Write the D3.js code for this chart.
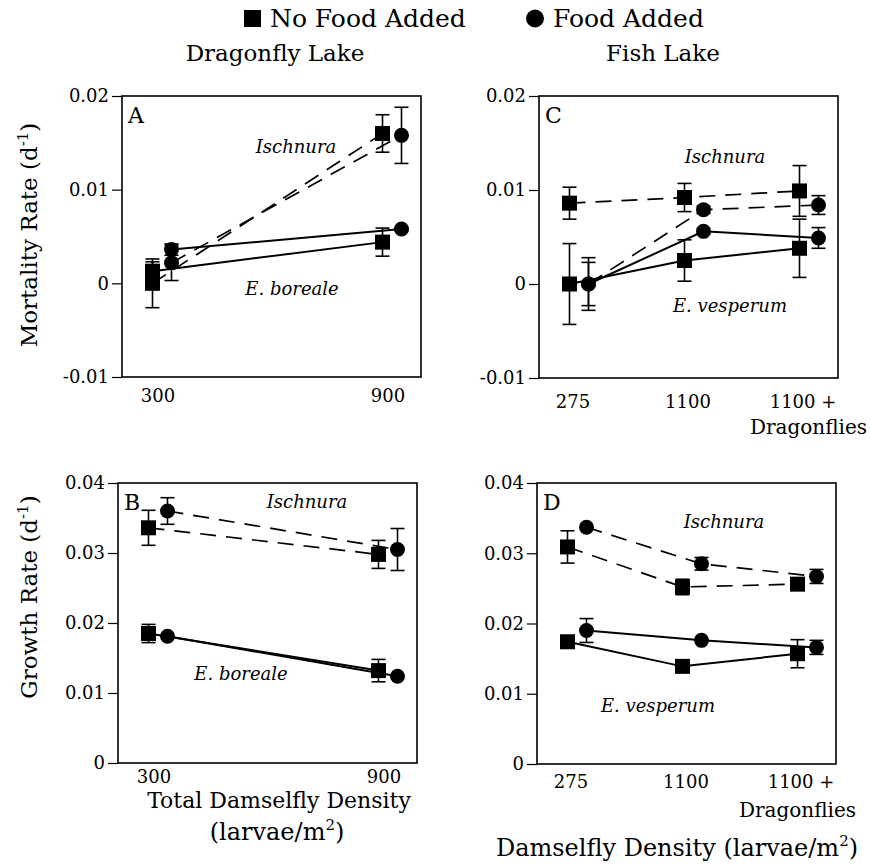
<!DOCTYPE html>
<html><head><meta charset="utf-8">
<script src="https://cdn.jsdelivr.net/npm/d3@7"></script>
<style>
body{margin:0;background:#fff}
text{font-family:"DejaVu Serif",serif;fill:#000}
</style>
</head><body>
<svg id="chart" width="870" height="868"></svg>
<script>
// ---------- DATA ----------
const catsDragonfly = ["300", "900"];
const catsFish = ["275", "1100", "1100 +"];
const mortTicks = [-0.01, 0, 0.01, 0.02];
const mortTickLabels = ["-0.01", "0", "0.01", "0.02"];
const growthTicks = [0, 0.01, 0.02, 0.03, 0.04];
const growthTickLabels = ["0", "0.01", "0.02", "0.03", "0.04"];

// Panel A: Dragonfly Lake, mortality
const aIschNoFood = [0.0000, 0.0160], aIschNoFoodErr = [0.0026, 0.0020];
const aIschFood   = [0.0022, 0.0158], aIschFoodErr   = [0.0019, 0.0030];
const aBorNoFood  = [0.0013, 0.0044], aBorNoFoodErr  = [0.0010, 0.0015];
const aBorFood    = [0.0036, 0.0058], aBorFoodErr    = [0.0006, 0.0002];
// Panel B: Dragonfly Lake, growth
const bIschNoFood = [0.0336, 0.0298], bIschNoFoodErr = [0.0025, 0.0020];
const bIschFood   = [0.0360, 0.0305], bIschFoodErr   = [0.0019, 0.0030];
const bBorNoFood  = [0.0185, 0.0132], bBorNoFoodErr  = [0.0013, 0.0016];
const bBorFood    = [0.0181, 0.0124], bBorFoodErr    = [0.0000, 0.0000];
// Panel C: Fish Lake, mortality
const cIschNoFood = [0.0086, 0.0092, 0.0099], cIschNoFoodErr = [0.0017, 0.0015, 0.0027];
const cIschFood   = [0.0000, 0.0079, 0.0084], cIschFoodErr   = [0.0028, 0.0004, 0.0010];
const cVesNoFood  = [0.0000, 0.0025, 0.0038], cVesNoFoodErr  = [0.0043, 0.0022, 0.0031];
const cVesFood    = [0.0000, 0.0056, 0.0049], cVesFoodErr    = [0.0023, 0.0003, 0.0011];
// Panel D: Fish Lake, growth
const dIschNoFood = [0.0309, 0.0252, 0.0256], dIschNoFoodErr = [0.0023, 0.0011, 0.0006];
const dIschFood   = [0.0337, 0.0285, 0.0267], dIschFoodErr   = [0.0000, 0.0009, 0.0010];
const dVesNoFood  = [0.0174, 0.0139, 0.0157], dVesNoFoodErr  = [0.0000, 0.0000, 0.0020];
const dVesFood    = [0.0190, 0.0176, 0.0166], dVesFoodErr    = [0.0017, 0.0000, 0.0010];

// ---------- LAYOUT ----------
const svg = d3.select("#chart");
svg.append("rect").attr("width", 870).attr("height", 868).attr("fill", "#fff");

const PW = 299;
const panels = [
  {letter: "A", x: 122, y: 96, h: 281, cats: catsDragonfly, dom: [-0.01, 0.02], ticks: mortTicks, tl: mortTickLabels,
   series: [[aIschNoFood, aIschNoFoodErr, "sq", true], [aIschFood, aIschFoodErr, "ci", true],
            [aBorNoFood, aBorNoFoodErr, "sq", false], [aBorFood, aBorFoodErr, "ci", false]],
   sp: [["Ischnura", 174, 0.0139], ["E. boreale", 170, -0.0012]], xlab: 25, xlabOff: -4},
  {letter: "C", x: 539, y: 96, h: 282, cats: catsFish, dom: [-0.01, 0.02], ticks: mortTicks, tl: mortTickLabels,
   series: [[cIschNoFood, cIschNoFoodErr, "sq", true], [cIschFood, cIschFoodErr, "ci", true],
            [cVesNoFood, cVesNoFoodErr, "sq", false], [cVesFood, cVesFoodErr, "ci", false]],
   sp: [["Ischnura", 186, 0.0129], ["E. vesperum", 191, -0.0030]], xlab: 30, xlabOff: -6},
  {letter: "B", x: 118, y: 483, h: 280, cats: catsDragonfly, dom: [0, 0.04], ticks: growthTicks, tl: growthTickLabels,
   series: [[bIschNoFood, bIschNoFoodErr, "sq", true], [bIschFood, bIschFoodErr, "ci", true],
            [bBorNoFood, bBorNoFoodErr, "sq", false], [bBorFood, bBorFoodErr, "ci", false]],
   sp: [["Ischnura", 189, 0.0364], ["E. boreale", 123, 0.0119]], xlab: 20, xlabOff: -4},
  {letter: "D", x: 537, y: 483, h: 281, cats: catsFish, dom: [0, 0.04], ticks: growthTicks, tl: growthTickLabels,
   series: [[dIschNoFood, dIschNoFoodErr, "sq", true], [dIschFood, dIschFoodErr, "ci", true],
            [dVesNoFood, dVesNoFoodErr, "sq", false], [dVesFood, dVesFoodErr, "ci", false]],
   sp: [["Ischnura", 187, 0.0336], ["E. vesperum", 121, 0.0074]], xlab: 24, xlabOff: -6}
];

const OFF = 9.5, SQ = 15, R = 7.5, CAP = 7;

panels.forEach(p => {
  const g = svg.append("g").attr("transform", `translate(${p.x},${p.y})`);
  const x = d3.scalePoint().domain(p.cats).range([40, 270]);
  const y = d3.scaleLinear().domain(p.dom).range([p.h, 0]);

  // y axis
  const ax = d3.axisLeft(y).tickValues(p.ticks).tickSize(10).tickPadding(3)
    .tickFormat((d, i) => p.tl[i]);
  const axg = g.append("g").call(ax);
  axg.select(".domain").remove();
  axg.selectAll("line").attr("stroke", "#000").attr("stroke-width", 1.2);
  axg.selectAll("text").style("font-family", '"DejaVu Serif",serif').style("font-size", "18px").attr("fill", "#000");

  // frame
  g.append("rect").attr("width", PW).attr("height", p.h).attr("fill", "none")
    .attr("stroke", "#000").attr("stroke-width", 1.6);

  // x category labels
  g.selectAll(".xl").data(p.cats).enter().append("text")
    .attr("x", d => x(d) + p.xlabOff).attr("y", p.h + p.xlab)
    .attr("text-anchor", "middle").style("font-size", "18px").text(d => d);

  const px = (i, type) => x(p.cats[i]) + (type === "sq" ? -OFF : OFF);

  // lines
  p.series.forEach(([vals, errs, type, dashed]) => {
    const line = d3.line().x((d, i) => px(i, type)).y(d => y(d));
    g.append("path").attr("d", line(vals)).attr("fill", "none").attr("stroke", "#000")
      .attr("stroke-width", dashed ? 1.7 : 2)
      .attr("stroke-dasharray", dashed ? "16,10" : null);
  });
  // error bars
  p.series.forEach(([vals, errs, type]) => {
    vals.forEach((v, i) => {
      if (!errs[i]) return;
      const cx = px(i, type), y1 = y(v + errs[i]), y2 = y(v - errs[i]);
      g.append("line").attr("x1", cx).attr("x2", cx).attr("y1", y1).attr("y2", y2).attr("stroke", "#000").attr("stroke-width", 1.6);
      [y1, y2].forEach(yy => g.append("line").attr("x1", cx - CAP).attr("x2", cx + CAP).attr("y1", yy).attr("y2", yy)
        .attr("stroke", "#000").attr("stroke-width", 1.6));
    });
  });
  // markers
  p.series.forEach(([vals, errs, type]) => {
    vals.forEach((v, i) => {
      const cx = px(i, type), cy = y(v);
      if (type === "sq") g.append("rect").attr("x", cx - SQ / 2).attr("y", cy - SQ / 2).attr("width", SQ).attr("height", SQ).attr("fill", "#000");
      else g.append("circle").attr("cx", cx).attr("cy", cy).attr("r", R).attr("fill", "#000");
    });
  });

  // panel letter
  g.append("text").attr("x", 6).attr("y", 27).style("font-size", "22px").text(p.letter);
  // species labels
  p.sp.forEach(([t, lx, lv]) => {
    g.append("text").attr("x", lx).attr("y", y(lv)).attr("text-anchor", "middle")
      .style("font-size", "18px").style("font-style", "italic").text(t);
  });
});

// "Dragonflies" labels under the "1100 +" category
svg.append("text").attr("x", 867).attr("y", 434).attr("text-anchor", "end").style("font-size", "20px").text("Dragonflies");
svg.append("text").attr("x", 856).attr("y", 817).attr("text-anchor", "end").style("font-size", "20px").text("Dragonflies");

// legend
svg.append("rect").attr("x", 244).attr("y", 10).attr("width", 17).attr("height", 17).attr("fill", "#000");
svg.append("text").attr("x", 270).attr("y", 27).style("font-size", "25px").text("No Food Added");
svg.append("circle").attr("cx", 535).attr("cy", 18.5).attr("r", 9).attr("fill", "#000");
svg.append("text").attr("x", 553).attr("y", 27).style("font-size", "25px").text("Food Added");

// lake titles
svg.append("text").attr("x", 275).attr("y", 61).attr("text-anchor", "middle").style("font-size", "23px").text("Dragonfly Lake");
svg.append("text").attr("x", 663).attr("y", 61).attr("text-anchor", "middle").style("font-size", "23px").text("Fish Lake");

// y axis titles
function yTitle(cy, label) {
  const t = svg.append("text").attr("transform", `translate(37,${cy}) rotate(-90)`)
    .attr("text-anchor", "middle").style("font-size", "23px");
  t.append("tspan").text(label + " (d");
  t.append("tspan").attr("dy", -9).style("font-size", "15px").text("-1");
  t.append("tspan").attr("dy", 9).text(")");
}
yTitle(235, "Mortality Rate");
yTitle(597, "Growth Rate");

// x axis titles
svg.append("text").attr("x", 279).attr("y", 808).attr("text-anchor", "middle").style("font-size", "22px").text("Total Damselfly Density");
const l2 = svg.append("text").attr("x", 277).attr("y", 840).attr("text-anchor", "middle").style("font-size", "24px");
l2.append("tspan").text("(larvae/m");
l2.append("tspan").attr("dy", -10).style("font-size", "15px").text("2");
l2.append("tspan").attr("dy", 10).text(")");
const l3 = svg.append("text").attr("x", 677).attr("y", 856).attr("text-anchor", "middle").style("font-size", "24px");
l3.append("tspan").text("Damselfly Density (larvae/m");
l3.append("tspan").attr("dy", -10).style("font-size", "15px").text("2");
l3.append("tspan").attr("dy", 10).text(")");
</script>
</body></html>
